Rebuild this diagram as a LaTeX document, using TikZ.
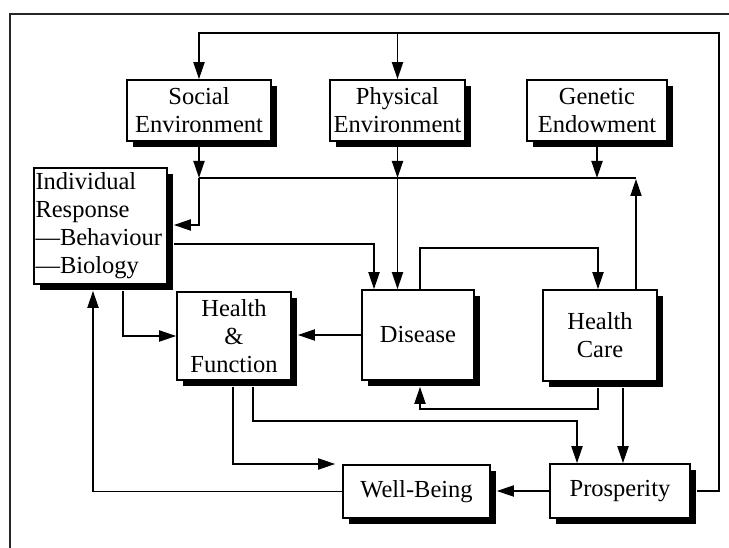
\documentclass[tikz,border=0pt]{standalone}
\usepackage{fontspec}
\setmainfont{Liberation Serif}
\usetikzlibrary{arrows.meta,shadows}

\tikzset{
  box/.style={draw=black, line width=1.6pt, fill=white, inner sep=2pt,
    align=center, font=\fontsize{24.5}{28}\selectfont,
    drop shadow={shadow xshift=6pt, shadow yshift=-6pt, fill=black, opacity=1}},
  conn/.style={line width=1.9pt},
  arr/.style={conn, -{Triangle[length=17pt,width=11pt]}},
}

\begin{document}
\begin{tikzpicture}[x=1pt,y=-1pt]
\useasboundingbox (0,0) rectangle (729,548);

% outer frame (left and top edges)
\draw[line width=1.3pt, black!85] (10,548) -- (10,14) -- (729,14);

% boxes
\node[box, minimum width=144pt, minimum height=61pt] (soc) at (199,110.5) {Social\\Environment};
\node[box, minimum width=135pt, minimum height=61pt] (phy) at (397.5,110.5) {Physical\\Environment};
\node[box, minimum width=140pt, minimum height=61pt] (gen) at (597,110.5) {Genetic\\Endowment};
\node[box, minimum width=133pt, minimum height=116pt, align=left, text width=130pt, inner xsep=1.5pt] (ind) at (100.5,226)
  {Individual\\Response\\---Behaviour\\---Biology};
\node[box, minimum width=114pt, minimum height=88pt] (hf) at (234,336) {Health\\\&\\Function};
\node[box, minimum width=112pt, minimum height=90pt] (dis) at (418,335) {Disease};
\node[box, minimum width=114pt, minimum height=91pt] (hc) at (600,335.5) {Health\\Care};
\node[box, minimum width=147pt, minimum height=53pt] (wb) at (416.5,491.5) {Well-Being};
\node[box, minimum width=140pt, minimum height=54pt] (pro) at (620,491) {Prosperity};

% routing levels and columns
\coordinate (ytop) at (0,33);
\coordinate (ymid) at (0,178);
\coordinate (xright) at (719,0);
\coordinate (yind) at (0,225);
\coordinate (ybeh) at (0,244);
\coordinate (xbeh) at (374,0);
\coordinate (xir) at (123,0);
\coordinate (xdis) at (420,0);
\coordinate (xhc) at (598,0);
\coordinate (xhcup) at (636,0);
\coordinate (xhcdn) at (623,0);
\coordinate (ydisup) at (0,248);
\coordinate (ycare) at (0,409);
\coordinate (xhfa) at (233,0);
\coordinate (xhfb) at (253,0);
\coordinate (yprosp) at (0,421);
\coordinate (xprosp) at (577,0);
\coordinate (ywell) at (0,464);
\coordinate (xback) at (93,0);

% feedback from prosperity to the environments
\draw[arr, shorten <=6pt] (pro.east) -| (xright |- ytop) -| (soc.north);
\draw[arr] (phy.north |- ytop) -- (phy.north);

% environments and genetics into the common line
\draw[arr] (soc.south) -- (soc.south |- ymid);
\draw[arr] (phy.south) -- (phy.south |- ymid);
\draw[arr] (gen.south) -- (gen.south |- ymid);
\draw[conn] (soc.south |- ymid) -- (xhcup |- ymid);
\draw[arr] (xhcup |- hc.north) -- ([yshift=-1pt]xhcup |- ymid);

% into individual response and disease
\draw[arr, shorten >=6pt] (soc.south |- ymid) |- (ind.east |- yind);
\draw[arr] (phy.south |- ymid) -- (phy.south |- dis.north);
\draw[arr, shorten <=6pt] (ind.east |- ybeh) -| (xbeh |- dis.north);

% into health & function
\draw[arr, shorten <=6pt] (xir |- ind.south) |- (hf.west);
\draw[arr, shorten >=6pt] (dis.west) -- (dis.west -| hf.east);

% disease <-> health care
\draw[arr] (xdis |- dis.north) |- (xhc |- ydisup) -- (xhc |- hc.north);
\draw[arr, shorten <=6pt, shorten >=6pt] (xhc |- hc.south) |- (xdis |- ycare) -- (xdis |- dis.south);

% into prosperity
\draw[arr, shorten <=6pt] (xhcdn |- hc.south) -- (xhcdn |- pro.north);
\draw[arr, shorten <=6pt] (xhfb |- hf.south) |- (xprosp |- yprosp) -- (xprosp |- pro.north);

% into well-being
\draw[arr, shorten <=6pt, shorten >=7pt] (xhfa |- hf.south) |- (wb.west |- ywell);
\draw[arr, shorten >=6pt] (pro.west) -- (pro.west -| wb.east);

% well-being back to individual response
\draw[arr, shorten >=6pt] (wb.west) -| (xback |- ind.south);
\end{tikzpicture}
\end{document}
